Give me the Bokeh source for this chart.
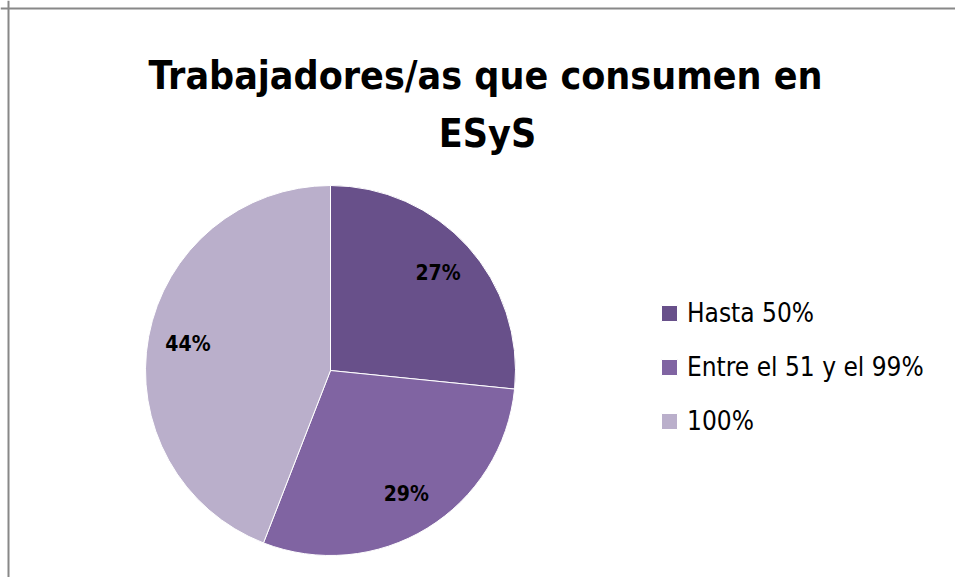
import math
from bokeh.plotting import figure
from bokeh.models import Range1d, ColumnDataSource, Legend, LegendItem, Span
from bokeh.core.properties import value
from bokeh.embed import file_html
from bokeh.resources import INLINE

# ---- data ----
categories = ["Hasta 50%", "Entre el 51 y el 99%", "100%"]
percents = [26.6, 29.3, 44.1]
colors = ["#68508A", "#8064A2", "#BAAFCB"]
title_lines = ["Trabajadores/as que consumen en", "ESyS"]

W, H = 955, 577
total = sum(percents)
fracs = [c / total for c in percents]
starts, ends, mids = [], [], []
cum = 0.0
for f in fracs:
    s = math.pi / 2 - cum * 2 * math.pi
    cum += f
    e = math.pi / 2 - cum * 2 * math.pi
    starts.append(s)
    ends.append(e)
    mids.append((s + e) / 2)
labels = [f"{round(f * 100)}%" for f in fracs]

cx, cy, R = 330, H - 370, 185
lr = 145
src = ColumnDataSource(dict(
    lx=[cx + lr * math.cos(m) for m in mids],
    ly=[cy + lr * math.sin(m) for m in mids],
    lab=labels,
))

FONT = "DejaVu Sans Condensed"

p = figure(width=W, height=H, output_backend="svg", toolbar_location=None,
           x_range=Range1d(0, W), y_range=Range1d(0, H),
           min_border=0, outline_line_color=None)
p.axis.visible = False
p.grid.visible = False
p.background_fill_color = "white"
p.border_fill_color = "white"

rends = []
for i in range(len(categories)):
    r = p.wedge(x=cx, y=cy, radius=R, radius_units="screen",
                start_angle=starts[i], end_angle=ends[i], direction="clock",
                fill_color=colors[i], line_color="white", line_width=1)
    rends.append(r)

p.text(x="lx", y="ly", text="lab", source=src,
       text_font=value(FONT), text_font_style="bold",
       text_font_size="21px", text_align="center", text_baseline="middle",
       text_color="black")

# title
p.text(x=[485], y=[H - 75], text=[title_lines[0]],
       text_font=value(FONT), text_font_style="bold",
       text_font_size="39px", text_align="center", text_baseline="alphabetic",
       text_color="black")
p.text(x=[487], y=[H - 133], text=[title_lines[1]],
       text_font=value(FONT), text_font_style="bold",
       text_font_size="39px", text_align="center", text_baseline="alphabetic",
       text_color="black")

legend = Legend(items=[LegendItem(label=categories[i], renderers=[rends[i]]) for i in range(3)],
                location=(659, 141), orientation="vertical",
                glyph_width=20, glyph_height=20, label_standoff=8,
                label_text_font=FONT, label_text_font_size="26px",
                label_text_color="black", spacing=24, padding=0, margin=0,
                border_line_color=None, background_fill_alpha=0)
p.add_layout(legend)

# chart-area border (left and top)
p.add_layout(Span(location=8, dimension="height", line_color="#888888", line_width=2))
p.add_layout(Span(location=H - 8, dimension="width", line_color="#888888", line_width=2))

open("out.html", "w").write(file_html(p, INLINE))
